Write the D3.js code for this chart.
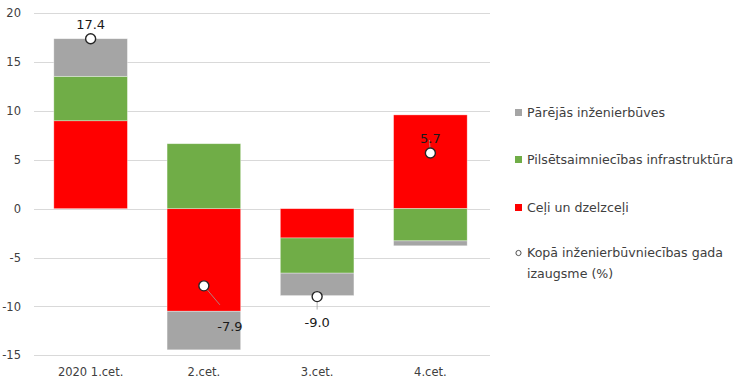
<!DOCTYPE html>
<html>
<head>
<meta charset="utf-8">
<script src="https://cdn.jsdelivr.net/npm/d3@7"></script>
<style>
  body { margin: 0; background: #fff; }
  svg { font-family: "DejaVu Sans", Verdana, sans-serif; }
</style>
</head>
<body>
<div id="viz"></div>
<script>
// Quarterly contributions to civil engineering growth (percentage points)
var categories = ["2020 1.cet.", "2.cet.", "3.cet.", "4.cet."];
var roads = [9.0, -10.5, -3.0, 9.6];     // Ceļi un dzelzceļi
var urban = [4.55, 6.65, -3.6, -3.3];    // Pilsētsaimniecības infrastruktūra
var other = [3.85, -3.95, -2.3, -0.5];   // Pārējās inženierbūves
var total = [17.4, -7.9, -9.0, 5.7];     // Kopā
var yTicks = [-15, -10, -5, 0, 5, 10, 15, 20];

var seriesNames = ["Pārējās inženierbūves", "Pilsētsaimniecības infrastruktūra", "Ceļi un dzelzceļi"];
var totalName = ["Kopā inženierbūvniecības gada", "izaugsme (%)"];
// where the total label sits relative to its dot
var labelSide = ["above", "belowRight", "below", "above"];

var W = 750, H = 389;
var plotLeft = 34, plotRight = 487;
var colors = { roads: "#ff0000", urban: "#70ad47", other: "#a5a5a5" };

var rows = categories.map(function(c, i) {
    return { cat: c, roads: roads[i], urban: urban[i], other: other[i], total: total[i] };
});

var svg = d3.select("#viz").append("svg")
    .attr("width", W).attr("height", H);

var x = d3.scaleBand().domain(categories).range([plotLeft, plotRight]).paddingInner(0.35).paddingOuter(0.175);
var y = d3.scaleLinear().domain([-15, 20]).range([355.2, 13.3]);

// gridlines
svg.append("g").selectAll("line").data(yTicks).join("line")
    .attr("x1", plotLeft).attr("x2", plotRight + 3)
    .attr("y1", function(d) { return Math.round(y(d)) + 0.5; })
    .attr("y2", function(d) { return Math.round(y(d)) + 0.5; })
    .attr("stroke", "#d9d9d9").attr("stroke-width", 1);

// y axis labels
var yAxis = svg.append("g").attr("transform", "translate(" + (plotLeft + 4) + ",0)")
    .call(d3.axisLeft(y).tickValues(yTicks).tickSize(0).tickPadding(17)
        .tickFormat(function(d) { return String(d); }));
yAxis.select(".domain").remove();
yAxis.selectAll("text").attr("font-size", 11.5).attr("fill", "#404040")
    .attr("font-family", "DejaVu Sans, Verdana, sans-serif");

// x axis labels
var xAxis = svg.append("g").attr("transform", "translate(0," + 362 + ")")
    .call(d3.axisBottom(x).tickSize(0).tickPadding(6));
xAxis.select(".domain").remove();
xAxis.selectAll("text").attr("font-size", 11.5).attr("fill", "#404040")
    .attr("font-family", "DejaVu Sans, Verdana, sans-serif");

// stacked bars
var stack = d3.stack().keys(["roads", "urban", "other"]).offset(d3.stackOffsetDiverging);
var layers = stack(rows);

svg.append("g").selectAll("g").data(layers).join("g")
    .attr("fill", function(d) { return colors[d.key]; })
    .selectAll("rect").data(function(d) { return d; }).join("rect")
    .attr("x", function(d) { return x(d.data.cat); })
    .attr("width", x.bandwidth())
    .attr("y", function(d) { return y(Math.max(d[0], d[1])); })
    .attr("height", function(d) { return Math.abs(y(d[0]) - y(d[1])); })
    .attr("stroke", "#ffffff").attr("stroke-opacity", 0.5).attr("stroke-width", 0.7);

// leader lines, dots and labels for totals
var cx = function(i) { return x(categories[i]) + x.bandwidth() / 2; };
var labels = svg.append("g");
rows.forEach(function(r, i) {
    var px = cx(i), py = y(r.total);
    var lx, ly;
    if (labelSide[i] == "above") {
        lx = px; ly = py - 10;
    } else if (labelSide[i] == "below") {
        lx = px; ly = py + 30;
    } else {
        lx = px + 26; ly = py + 45;
    }
    if (i > 0) {
        var ex = px, ey;
        if (labelSide[i] == "above") { ex = px - 1; ey = py - 13; }
        else if (labelSide[i] == "below") { ey = py + 13; }
        else { ex = px + 16; ey = py + 19; }
        labels.append("line")
            .attr("x1", px).attr("y1", py).attr("x2", ex).attr("y2", ey)
            .attr("stroke", "#a0a0a0").attr("stroke-width", 0.8);
    }
    labels.append("text")
        .attr("x", lx).attr("y", ly)
        .attr("text-anchor", "middle")
        .attr("font-size", 13).attr("fill", "#1a1a1a")
        .text(r.total.toFixed(1));
});

svg.append("g").selectAll("circle").data(rows).join("circle")
    .attr("cx", function(d, i) { return cx(i); })
    .attr("cy", function(d) { return y(d.total); })
    .attr("r", 5)
    .attr("fill", "#ffffff").attr("stroke", "#262626").attr("stroke-width", 1.4);

// legend
var legend = svg.append("g").attr("font-size", 12.6).attr("fill", "#404040");
var legendColors = [colors.other, colors.urban, colors.roads];
var legendY = [113, 160, 208];
seriesNames.forEach(function(name, i) {
    legend.append("rect").attr("x", 515).attr("y", legendY[i] - 4).attr("width", 7).attr("height", 7)
        .attr("fill", legendColors[i]);
    legend.append("text").attr("x", 527).attr("y", legendY[i]).attr("dy", "0.35em")
        .attr("fill", "#404040").text(name);
});
legend.append("circle").attr("cx", 518.5).attr("cy", 253).attr("r", 2.6)
    .attr("fill", "#fff").attr("stroke", "#404040").attr("stroke-width", 0.9);
legend.append("text").attr("x", 527).attr("y", 253).attr("dy", "0.35em").attr("fill", "#404040").text(totalName[0]);
legend.append("text").attr("x", 527).attr("y", 274).attr("dy", "0.35em").attr("fill", "#404040").text(totalName[1]);
</script>
</body>
</html>
